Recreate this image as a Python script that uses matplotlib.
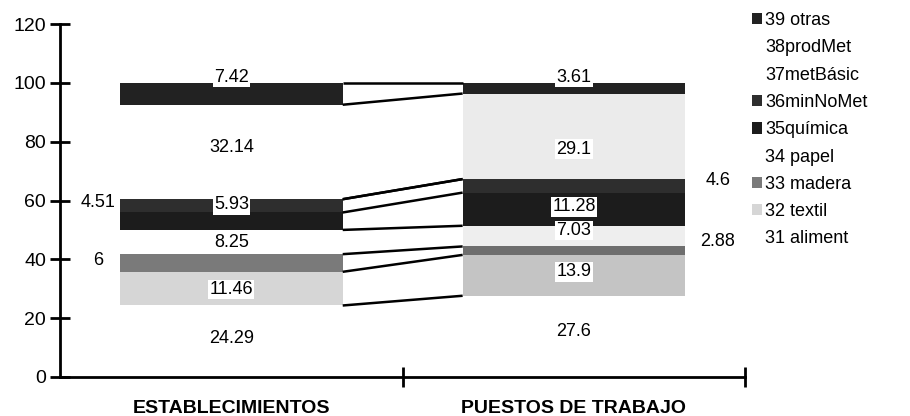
import matplotlib
matplotlib.use("Agg")
import matplotlib.pyplot as plt
from matplotlib.patches import Patch
import numpy as np

plt.rcParams['font.family'] = ['Liberation Sans', 'DejaVu Sans']

# data
categories = ['ESTABLECIMIENTOS', 'PUESTOS DE TRABAJO']
series = ['31 aliment', '32 textil', '33 madera', '34 papel', '35química',
          '36minNoMet', '37metBásic', '38prodMet', '39 otras']
establecimientos = [24.29, 11.46, 6, 8.25, 5.93, 4.51, 0, 32.14, 7.42]
puestos = [27.6, 13.9, 2.88, 7.03, 11.28, 4.6, 0, 29.1, 3.61]
colors = ['#ffffff', '#d6d6d6', '#7a7a7a', '#ffffff', '#1c1c1c',
          '#2e2e2e', '#ffffff', '#ffffff', '#222222']
# the scanned right bar looks speckled in a few white segments
colors_pue = ['#ffffff', '#c4c4c4', '#6e6e6e', '#eeeeee', '#1c1c1c',
              '#2e2e2e', '#ffffff', '#ebebeb', '#222222']

# label placement per bar (x offset in category units, y value); None = no label
lab_est = [(0, 13), (0, 29.6), (-0.39, 39.5), (0, 45.6), (0, 58.5),
           (-0.39, 59.2), None, (0, 78), (0, 102)]
lab_pue = [(0, 15.6), (0, 35.7), (0.42, 46), (0, 49.7), (0, 57.8),
           (0.42, 66.7), None, (0, 77.5), (0, 102)]

fig = plt.figure(figsize=(9.10, 4.16), dpi=100)
ax = fig.add_axes([0.066, 0.094, 0.753, 0.848])

w = 0.65
x = np.arange(len(categories))
data = np.array([establecimientos, puestos])
bottoms = np.zeros(2)
for i, name in enumerate(series):
    ax.bar(x, data[:, i], w, bottom=bottoms, color=[colors[i], colors_pue[i]],
           edgecolor='none', label=name)
    bottoms = bottoms + data[:, i]

# series lines between the bars
cum = np.cumsum(data, axis=1)
x0, x1 = x[0] + w / 2, x[1] - w / 2
for i in range(len(series)):
    ax.plot([x0, x1], [cum[0, i], cum[1, i]], color='black', lw=1.8, solid_capstyle='butt')

# value labels
for j, labs in enumerate([lab_est, lab_pue]):
    for i, lab in enumerate(labs):
        if lab is None:
            continue
        v = data[j, i]
        ax.text(x[j] + lab[0], lab[1], f'{v:g}', ha='center', va='center', fontsize=13,
                bbox=dict(facecolor='white', edgecolor='none', pad=0.8), zorder=5)

ax.set_xlim(-0.5, 1.5)
ax.set_ylim(0, 120)
ax.set_yticks(np.arange(0, 121, 20))
ax.set_xticks([0.5, 1.5])
ax.set_xticklabels([])
for j, c in enumerate(categories):
    ax.text(x[j], -8, c, ha='center', va='top', fontsize=14, fontweight='bold')

for s in ['top', 'right']:
    ax.spines[s].set_visible(False)
for s in ['left', 'bottom']:
    ax.spines[s].set_linewidth(2)
ax.tick_params(axis='both', direction='inout', length=14, width=2, labelsize=14)
ax.tick_params(axis='y', pad=3)

handles = [Patch(facecolor=colors[i], edgecolor='none', label=series[i])
           for i in range(len(series) - 1, -1, -1)]
fig.legend(handles=handles, loc='upper left', bbox_to_anchor=(0.808, 1.01), frameon=False,
           fontsize=13, handlelength=0.6, handleheight=0.6, handletextpad=0.15,
           labelspacing=0.57)

fig.savefig('out.png', dpi=100)
